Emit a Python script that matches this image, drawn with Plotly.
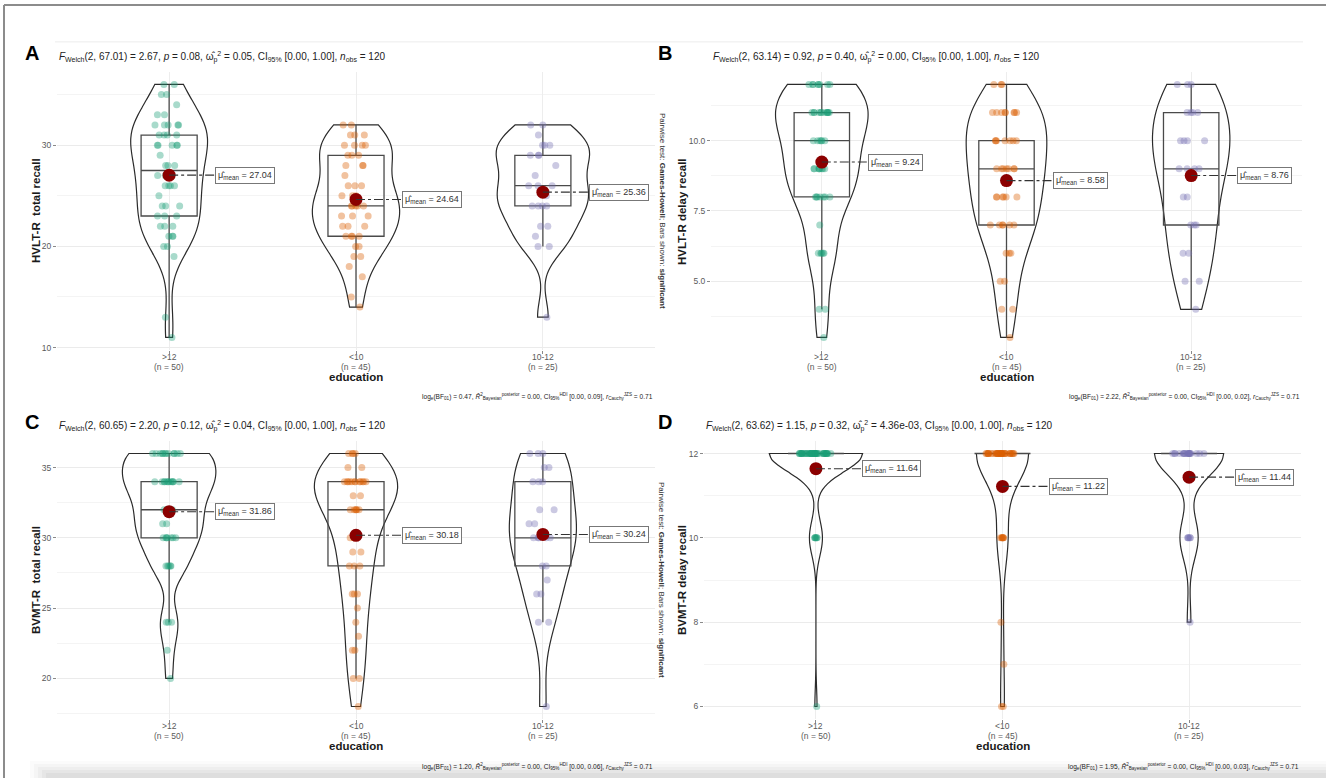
import numpy as np
import plotly.graph_objects as go

W, H = 1326, 780

# ---------------- data ----------------
categories = [">12", "<10", "10-12"]
group_sizes = [50, 45, 25]
group_colors = ["#1B9E77", "#D95F02", "#7570B3"]

# Panel A: HVLT-R total recall
hvlt_total_gt12 = [11, 13, 19, 20, 20, 21, 21, 21, 22, 22, 22, 23, 23, 23, 24, 24, 24, 25, 26, 26, 26, 26, 27, 27, 27,
                   28, 28, 28, 29, 30, 30, 30, 30, 30, 31, 31, 31, 31, 32, 32, 32, 32, 32, 33, 33, 34, 35, 35, 36, 36]
hvlt_total_lt10 = [14, 15, 17, 18, 19, 19, 20, 20, 21, 21, 21, 21, 22, 22, 22, 23, 23, 23, 24, 24, 24, 24, 24,
                   25, 25, 25, 26, 26, 26, 27, 28, 28, 28, 29, 29, 29, 30, 30, 30, 30, 31, 31, 31, 32, 32]
hvlt_total_10_12 = [13, 20, 20, 21, 22, 22, 24, 24, 24, 24, 25, 26, 26, 26, 27, 28, 29, 29, 29, 30, 30, 30, 31, 32, 32]
hvlt_total_means = [27.04, 24.64, 25.36]

# Panel B: HVLT-R delay recall
hvlt_delay_gt12 = [3, 4, 4, 6, 6, 6, 6, 6, 7, 8, 8, 8, 8, 8, 8, 8, 9, 9, 9, 9, 9, 9, 9, 9, 10, 10, 10, 10, 10, 10,
                   11, 11, 11, 11, 11, 11, 11, 11, 11, 11, 11, 11, 12, 12, 12, 12, 12, 12, 12, 12]
hvlt_delay_lt10 = [3, 4, 4, 5, 5, 6, 6, 6, 7, 7, 7, 7, 7, 7, 8, 8, 8, 8, 8, 8, 9, 9, 9, 9, 9, 9, 9,
                   10, 10, 10, 10, 10, 10, 10, 11, 11, 11, 11, 11, 11, 11, 11, 12, 12, 12]
hvlt_delay_10_12 = [4, 5, 5, 6, 6, 7, 7, 7, 8, 8, 9, 9, 9, 9, 10, 10, 10, 10, 11, 11, 11, 11, 12, 12, 12]
hvlt_delay_means = [9.24, 8.58, 8.76]

# Panel C: BVMT-R total recall
bvmt_total_gt12 = [20, 22, 24, 24, 24, 28, 28, 28, 28, 28, 30, 30, 30, 30, 30, 30, 30, 31, 31,
                   32, 32, 32, 32, 32, 32, 32, 34, 34, 34, 34, 34, 34, 34, 34, 34, 34, 34, 34,
                   36, 36, 36, 36, 36, 36, 36, 36, 36, 36, 36, 36]
bvmt_total_lt10 = [18, 20, 20, 22, 22, 23, 24, 25, 26, 26, 26, 28, 28, 28, 29, 29, 30, 30, 30,
                   32, 32, 32, 32, 32, 32, 33, 33, 34, 34, 34, 34, 34, 34, 34, 34, 34, 34, 34, 34,
                   35, 35, 36, 36, 36, 36]
bvmt_total_10_12 = [18, 24, 24, 26, 26, 27, 28, 28, 30, 30, 30, 30, 30, 31, 31, 32, 32, 34, 34, 34, 35, 35, 36, 36, 36]
bvmt_total_means = [31.86, 30.18, 30.24]

# Panel D: BVMT-R delay recall
bvmt_delay_gt12 = [6, 10, 10, 10, 10, 10, 10, 12, 12, 12, 12, 12, 12, 12, 12, 12, 12, 12, 12, 12, 12, 12, 12, 12,
                   12, 12, 12, 12, 12, 12, 12, 12, 12, 12, 12, 12, 12, 12, 12, 12, 12, 12, 12, 12, 12, 12, 12, 12, 12, 12]
bvmt_delay_lt10 = [6, 6, 7, 8, 10, 10, 10, 10, 10, 10, 10, 12, 12, 12, 12, 12, 12, 12, 12, 12, 12, 12, 12, 12,
                   12, 12, 12, 12, 12, 12, 12, 12, 12, 12, 12, 12, 12, 12, 12, 12, 12, 12, 12, 12, 12]
bvmt_delay_10_12 = [8, 10, 10, 10, 10, 10, 12, 12, 12, 12, 12, 12, 12, 12, 12, 12, 12, 12, 12, 12, 12, 12, 12, 12, 12]
bvmt_delay_means = [11.64, 11.22, 11.44]

y_titles = ["HVLT-R  total recall", "HVLT-R delay recall", "BVMT-R  total recall", "BVMT-R delay recall"]
y_tick_vals = [[10, 20, 30], [5.0, 7.5, 10.0], [20, 25, 30, 35], [6, 8, 10, 12]]
y_tick_text = [["10", "20", "30"], ["5.0", "7.5", "10.0"], ["20", "25", "30", "35"], ["6", "8", "10", "12"]]
panel_letters = ["A", "B", "C", "D"]
welch_df = ["67.01", "63.14", "60.65", "63.62"]
welch_f = ["2.67", "0.92", "2.20", "1.15"]
welch_p = ["0.08", "0.40", "0.12", "0.32"]
omega_sq = ["0.05", "0.00", "0.04", "4.36e-03"]
log_bf = ["0.47", "2.22", "1.20", "1.95"]
r2_hdi_upper = ["0.09", "0.02", "0.06", "0.03"]

# ---------------- layout geometry (pixels) ----------------
FONT = "Liberation Sans, Arial, sans-serif"
panels = [
    dict(data=[hvlt_total_gt12, hvlt_total_lt10, hvlt_total_10_12], means=hvlt_total_means,
         x0=57, x1=655, y0=72, y1=351, yr=[9.75, 37.25], minor=(15, 10), letter_x=32),
    dict(data=[hvlt_delay_gt12, hvlt_delay_lt10, hvlt_delay_10_12], means=hvlt_delay_means,
         x0=711, x1=1302, y0=72, y1=351, yr=[2.55, 12.45], minor=(3.75, 2.5), letter_x=665),
    dict(data=[bvmt_total_gt12, bvmt_total_lt10, bvmt_total_10_12], means=bvmt_total_means,
         x0=57, x1=655, y0=442, y1=721, yr=[17.1, 36.9], minor=(17.5, 5), letter_x=32),
    dict(data=[bvmt_delay_gt12, bvmt_delay_lt10, bvmt_delay_10_12], means=bvmt_delay_means,
         x0=704, x1=1301, y0=442, y1=721, yr=[5.7, 12.3], minor=(7, 2), letter_x=665),
]


def px(x):
    return x / W


def py(y):
    return 1 - y / H


def nrd0(v):
    v = np.asarray(v, float)
    sd = v.std(ddof=1)
    q1, q3 = np.percentile(v, [25, 75])
    lo = min(sd, (q3 - q1) / 1.34)
    if lo == 0:
        lo = sd
    return 0.9 * lo * len(v) ** -0.2


def peak_density(v, bw):
    v = np.asarray(v, float)
    grid = np.linspace(v.min(), v.max(), 512)
    d = np.exp(-0.5 * ((grid[:, None] - v[None, :]) / bw) ** 2).sum(1) / (len(v) * bw * np.sqrt(2 * np.pi))
    return d.max()


def box_stats(v):
    v = np.asarray(v, float)
    q1, med, q3 = np.percentile(v, [25, 50, 75])  # same as R type 7
    iqr = q3 - q1
    lf = v[v >= q1 - 1.5 * iqr].min()
    uf = v[v <= q3 + 1.5 * iqr].max()
    return q1, med, q3, lf, uf


fig = go.Figure()
annotations = []
shapes = []
layout_axes = {}

for k, p in enumerate(panels):
    idx = "" if k == 0 else str(k + 1)
    xa, ya = "x" + idx, "y" + idx
    row_off = p["y0"] - 72
    bws = [nrd0(g) for g in p["data"]]
    peaks = [peak_density(g, b) for g, b in zip(p["data"], bws)]
    pmax = max(peaks)
    for i, g in enumerate(p["data"]):
        fig.add_trace(go.Violin(
            y=g, x0=i, xaxis=xa, yaxis=ya, width=0.5 * peaks[i] / pmax, scalemode="width",
            spanmode="hard", bandwidth=bws[i], points=False, box_visible=False, meanline_visible=False,
            line=dict(color="#2b2b2b", width=1.2), fillcolor="rgba(255,255,255,0)",
            showlegend=False, hoverinfo="skip"))
        q1, med, q3, lf, uf = box_stats(g)
        fig.add_trace(go.Box(
            x=[i], q1=[q1], median=[med], q3=[q3], lowerfence=[lf], upperfence=[uf],
            xaxis=xa, yaxis=ya, width=0.3, boxpoints=False, whiskerwidth=0,
            line=dict(color="#4a4a4a", width=1.3), fillcolor="rgba(0,0,0,0)",
            showlegend=False, hoverinfo="skip"))
        fig.add_trace(go.Box(
            y=g, x0=i, xaxis=xa, yaxis=ya, width=0.3, boxpoints="all", jitter=0.6, pointpos=0,
            marker=dict(color=group_colors[i], size=7, opacity=0.38),
            line=dict(color="rgba(0,0,0,0)", width=0), fillcolor="rgba(0,0,0,0)",
            showlegend=False, hoverinfo="skip"))
        # category tick labels
        annotations.append(dict(x=i, y=py(358 + row_off), xref=xa, yref="paper", text=categories[i],
                                showarrow=False, xanchor="center", yanchor="middle",
                                font=dict(family=FONT, size=8.5, color="#5a5a5a")))
        annotations.append(dict(x=i, y=py(367.5 + row_off), xref=xa, yref="paper",
                                text=f"(n = {group_sizes[i]})", showarrow=False, xanchor="center",
                                yanchor="middle", font=dict(family=FONT, size=8.5, color="#5a5a5a")))
    fig.add_trace(go.Scatter(
        x=[0, 1, 2], y=p["means"], xaxis=xa, yaxis=ya, mode="markers",
        marker=dict(color="#8B0000", size=13), showlegend=False, hoverinfo="skip"))
    for i, m in enumerate(p["means"]):
        shapes.append(dict(type="line", xref=xa, yref=ya, xsizemode="pixel", xanchor=i, x0=0, x1=46,
                           y0=m, y1=m, line=dict(color="#333333", width=1.1, dash="dashdot"), layer="above"))
        annotations.append(dict(
            x=i, y=m, xref=xa, yref=ya, xanchor="left", yanchor="middle", xshift=46, showarrow=False,
            text=f"\u03bc\u0302<sub>mean</sub> = {m:.2f}", font=dict(family=FONT, size=9, color="#333333"),
            bordercolor="#777777", borderwidth=1, borderpad=2, bgcolor="white"))

    layout_axes["xaxis" + idx] = dict(
        domain=[px(p["x0"]), px(p["x1"])], range=[-0.6, 2.6], anchor=ya,
        tickvals=[0, 1, 2], showticklabels=False, ticks="outside", ticklen=3,
        tickcolor="#8a8a8a", showgrid=True, gridcolor="#EDEDED", gridwidth=0.8, zeroline=False,
        showline=False, fixedrange=True)
    layout_axes["yaxis" + idx] = dict(
        domain=[py(p["y1"]), py(p["y0"])], range=p["yr"], anchor=xa,
        tickvals=y_tick_vals[k], ticktext=y_tick_text[k],
        tickfont=dict(family=FONT, size=8.5, color="#5a5a5a"), ticks="outside", ticklen=3,
        tickcolor="#8a8a8a", showgrid=True, gridcolor="#EBEBEB", gridwidth=0.9, zeroline=False,
        showline=False, fixedrange=True,
        minor=dict(showgrid=True, gridcolor="#F4F4F4", gridwidth=0.8, tick0=p["minor"][0], dtick=p["minor"][1]))

    cx = (p["x0"] + p["x1"]) / 2
    cy = (p["y0"] + p["y1"]) / 2
    # panel letter
    annotations.append(dict(x=px(p["letter_x"]), y=py(53 + row_off), xref="paper", yref="paper",
                            text=f"<b>{panel_letters[k]}</b>", showarrow=False, xanchor="center",
                            yanchor="middle", font=dict(family=FONT, size=20, color="black")))
    # subtitle
    sub = (f"<i>F</i><sub>Welch</sub>(2, {welch_df[k]}) = {welch_f[k]}, <i>p</i> = {welch_p[k]}, "
           f"\u03c9\u0302<sub>p</sub><sup>2</sup> = {omega_sq[k]}, CI<sub>95%</sub> [0.00, 1.00], "
           f"<i>n</i><sub>obs</sub> = 120")
    annotations.append(dict(x=px(p["x0"]), y=py(57 + row_off), xref="paper", yref="paper", text=sub,
                            showarrow=False, xanchor="left", yanchor="middle",
                            font=dict(family=FONT, size=10, color="#222222")))
    # caption
    cap = (f"log<sub>e</sub>(BF<sub>01</sub>) = {log_bf[k]}, <i>R\u0302</i><sup>2</sup><sub>Bayesian</sub>"
           f"<sup>posterior</sup> = 0.00, CI<sub>95%</sub><sup>HDI</sup> [0.00, {r2_hdi_upper[k]}], "
           f"<i>r</i><sub>Cauchy</sub><sup>JZS</sup> = 0.71")
    annotations.append(dict(x=px(p["x1"]), y=py(398 + row_off), xref="paper", yref="paper", text=cap,
                            showarrow=False, xanchor="right", yanchor="middle",
                            font=dict(family=FONT, size=6.6, color="#222222")))
    # y title
    ytx = 36 if k % 2 == 0 else 682
    annotations.append(dict(x=px(ytx), y=py(cy), xref="paper", yref="paper", text=f"<b>{y_titles[k]}</b>",
                            showarrow=False, textangle=-90, xanchor="center", yanchor="middle",
                            font=dict(family=FONT, size=11.5, color="#1a1a1a")))
    # x title
    annotations.append(dict(x=px(cx), y=py(378 + row_off), xref="paper", yref="paper", text="<b>education</b>",
                            showarrow=False, xanchor="center", yanchor="middle",
                            font=dict(family=FONT, size=11.5, color="#1a1a1a")))
    # pairwise note (left column only)
    if k % 2 == 0:
        annotations.append(dict(x=px(662), y=py(cy), xref="paper", yref="paper",
                                text="Pairwise test: <b>Games-Howell</b>; Bars shown: <b>significant</b>",
                                showarrow=False, textangle=90, xanchor="center", yanchor="middle",
                                font=dict(family=FONT, size=8, color="#333333")))

# page decorations: frame and bottom shadow
shapes.append(dict(type="line", xref="paper", yref="paper", x0=px(55), x1=px(1303), y0=py(42), y1=py(42),
                   line=dict(color="#ECECEC", width=1), layer="below"))
shade = ["#FBFBFB", "#F5F5F5", "#EEEEEE", "#E6E6E6", "#DEDEDE"]
for j, c in enumerate(shade):
    shapes.append(dict(type="rect", xref="paper", yref="paper", x0=px(30 + 4 * j), x1=1,
                       y0=0, y1=py(763 + 3 * j), fillcolor=c, line=dict(width=0), layer="below"))
shapes.append(dict(type="line", xref="paper", yref="paper", x0=px(4), x1=px(4), y0=0, y1=py(5),
                   line=dict(color="#8C8C8C", width=2)))
shapes.append(dict(type="line", xref="paper", yref="paper", x0=px(4), x1=1, y0=py(5), y1=py(5),
                   line=dict(color="#8C8C8C", width=2)))

fig.update_layout(
    width=W, height=H, margin=dict(l=0, r=0, t=0, b=0),
    paper_bgcolor="white", plot_bgcolor="rgba(0,0,0,0)",
    violinmode="overlay", boxmode="overlay", showlegend=False,
    font=dict(family=FONT, color="#333333"),
    annotations=annotations, shapes=shapes, **layout_axes)

fig.write_html("out.html", config={"displayModeBar": False},
               post_script="document.body.style.margin='0px';")
